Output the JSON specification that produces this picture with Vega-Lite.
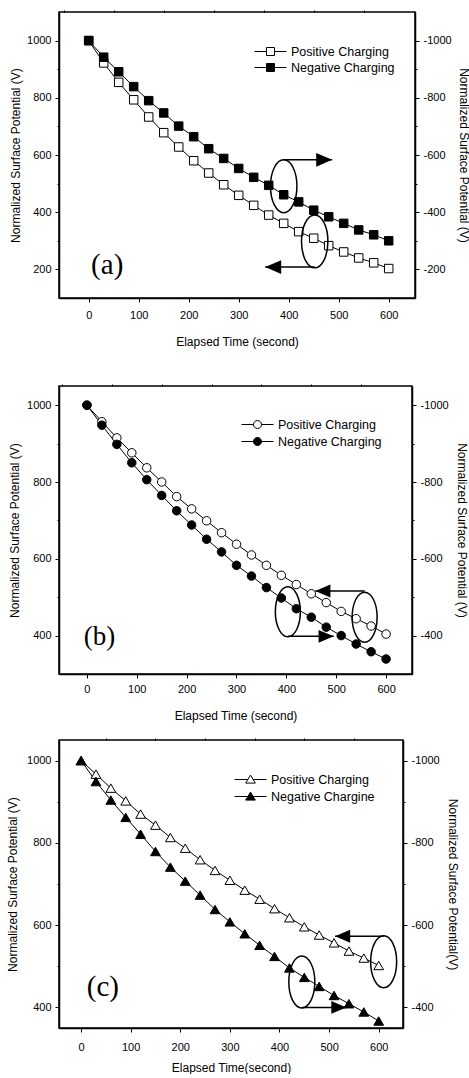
{
  "$schema": "https://vega.github.io/schema/vega-lite/v6.json",
  "padding": {"left": 5, "top": 8, "right": 0, "bottom": 0},
  "background": "white",
  "config": {
    "font": "Liberation Sans",
    "view": {"stroke": "black", "strokeWidth": 1.5},
    "axis": {"grid": false, "domainColor": "black", "domainWidth": 1.5, "tickColor": "black", "tickWidth": 1, "tickSize": 4, "labelColor": "black", "titleColor": "black", "labelFont": "Liberation Sans", "titleFont": "Liberation Sans", "labelFontSize": 11, "titleFontSize": 12, "titleFontWeight": "normal", "labelPadding": 4},
    "legend": {"padding": 0, "title": null, "labelFont": "Liberation Sans", "labelFontSize": 12.5, "labelColor": "black", "symbolStrokeColor": "black", "symbolStrokeWidth": 1, "symbolOpacity": 1, "symbolSize": 256, "labelOffset": 12}
  },
  "datasets": {
    "a": [
      {"t":0,"v":1000,"series":"Positive Charging"},{"t":30,"v":922,"series":"Positive Charging"},{"t":60,"v":854,"series":"Positive Charging"},{"t":90,"v":793,"series":"Positive Charging"},{"t":120,"v":733,"series":"Positive Charging"},{"t":150,"v":678,"series":"Positive Charging"},{"t":180,"v":628,"series":"Positive Charging"},{"t":210,"v":580,"series":"Positive Charging"},{"t":240,"v":537,"series":"Positive Charging"},{"t":270,"v":496,"series":"Positive Charging"},{"t":300,"v":459,"series":"Positive Charging"},{"t":330,"v":424,"series":"Positive Charging"},{"t":360,"v":390,"series":"Positive Charging"},{"t":390,"v":361,"series":"Positive Charging"},{"t":420,"v":332,"series":"Positive Charging"},{"t":450,"v":309,"series":"Positive Charging"},{"t":480,"v":283,"series":"Positive Charging"},{"t":510,"v":261,"series":"Positive Charging"},{"t":540,"v":240,"series":"Positive Charging"},{"t":570,"v":223,"series":"Positive Charging"},{"t":600,"v":203,"series":"Positive Charging"},
      {"t":0,"v":1000,"series":"Negative Charging"},{"t":30,"v":942,"series":"Negative Charging"},{"t":60,"v":891,"series":"Negative Charging"},{"t":90,"v":839,"series":"Negative Charging"},{"t":120,"v":790,"series":"Negative Charging"},{"t":150,"v":747,"series":"Negative Charging"},{"t":180,"v":701,"series":"Negative Charging"},{"t":210,"v":664,"series":"Negative Charging"},{"t":240,"v":622,"series":"Negative Charging"},{"t":270,"v":588,"series":"Negative Charging"},{"t":300,"v":553,"series":"Negative Charging"},{"t":330,"v":522,"series":"Negative Charging"},{"t":360,"v":494,"series":"Negative Charging"},{"t":390,"v":461,"series":"Negative Charging"},{"t":420,"v":436,"series":"Negative Charging"},{"t":450,"v":407,"series":"Negative Charging"},{"t":480,"v":384,"series":"Negative Charging"},{"t":510,"v":361,"series":"Negative Charging"},{"t":540,"v":338,"series":"Negative Charging"},{"t":570,"v":321,"series":"Negative Charging"},{"t":600,"v":300,"series":"Negative Charging"}
    ],
    "b": [
      {"t":0,"v":1000,"series":"Positive Charging"},{"t":30,"v":957,"series":"Positive Charging"},{"t":60,"v":915,"series":"Positive Charging"},{"t":90,"v":876,"series":"Positive Charging"},{"t":120,"v":837,"series":"Positive Charging"},{"t":150,"v":800,"series":"Positive Charging"},{"t":180,"v":762,"series":"Positive Charging"},{"t":210,"v":730,"series":"Positive Charging"},{"t":240,"v":699,"series":"Positive Charging"},{"t":270,"v":668,"series":"Positive Charging"},{"t":300,"v":638,"series":"Positive Charging"},{"t":330,"v":610,"series":"Positive Charging"},{"t":360,"v":583,"series":"Positive Charging"},{"t":390,"v":557,"series":"Positive Charging"},{"t":420,"v":533,"series":"Positive Charging"},{"t":450,"v":509,"series":"Positive Charging"},{"t":480,"v":486,"series":"Positive Charging"},{"t":510,"v":463,"series":"Positive Charging"},{"t":540,"v":444,"series":"Positive Charging"},{"t":570,"v":425,"series":"Positive Charging"},{"t":600,"v":404,"series":"Positive Charging"},
      {"t":0,"v":1000,"series":"Negative Charging"},{"t":30,"v":948,"series":"Negative Charging"},{"t":60,"v":898,"series":"Negative Charging"},{"t":90,"v":850,"series":"Negative Charging"},{"t":120,"v":806,"series":"Negative Charging"},{"t":150,"v":765,"series":"Negative Charging"},{"t":180,"v":725,"series":"Negative Charging"},{"t":210,"v":688,"series":"Negative Charging"},{"t":240,"v":651,"series":"Negative Charging"},{"t":270,"v":618,"series":"Negative Charging"},{"t":300,"v":583,"series":"Negative Charging"},{"t":330,"v":555,"series":"Negative Charging"},{"t":360,"v":525,"series":"Negative Charging"},{"t":390,"v":498,"series":"Negative Charging"},{"t":420,"v":470,"series":"Negative Charging"},{"t":450,"v":448,"series":"Negative Charging"},{"t":480,"v":422,"series":"Negative Charging"},{"t":510,"v":400,"series":"Negative Charging"},{"t":540,"v":378,"series":"Negative Charging"},{"t":570,"v":358,"series":"Negative Charging"},{"t":600,"v":339,"series":"Negative Charging"}
    ],
    "c": [
      {"t":0,"v":1000,"series":"Positive Charging"},{"t":30,"v":967,"series":"Positive Charging"},{"t":60,"v":933,"series":"Positive Charging"},{"t":90,"v":902,"series":"Positive Charging"},{"t":120,"v":870,"series":"Positive Charging"},{"t":150,"v":843,"series":"Positive Charging"},{"t":180,"v":813,"series":"Positive Charging"},{"t":210,"v":787,"series":"Positive Charging"},{"t":240,"v":759,"series":"Positive Charging"},{"t":270,"v":733,"series":"Positive Charging"},{"t":300,"v":709,"series":"Positive Charging"},{"t":330,"v":685,"series":"Positive Charging"},{"t":360,"v":663,"series":"Positive Charging"},{"t":390,"v":640,"series":"Positive Charging"},{"t":420,"v":618,"series":"Positive Charging"},{"t":450,"v":596,"series":"Positive Charging"},{"t":480,"v":576,"series":"Positive Charging"},{"t":510,"v":557,"series":"Positive Charging"},{"t":540,"v":537,"series":"Positive Charging"},{"t":570,"v":520,"series":"Positive Charging"},{"t":600,"v":502,"series":"Positive Charging"},
      {"t":0,"v":1000,"series":"Negative Chargine"},{"t":30,"v":949,"series":"Negative Chargine"},{"t":60,"v":904,"series":"Negative Chargine"},{"t":90,"v":862,"series":"Negative Chargine"},{"t":120,"v":821,"series":"Negative Chargine"},{"t":150,"v":779,"series":"Negative Chargine"},{"t":180,"v":741,"series":"Negative Chargine"},{"t":210,"v":707,"series":"Negative Chargine"},{"t":240,"v":673,"series":"Negative Chargine"},{"t":270,"v":638,"series":"Negative Chargine"},{"t":300,"v":608,"series":"Negative Chargine"},{"t":330,"v":579,"series":"Negative Chargine"},{"t":360,"v":551,"series":"Negative Chargine"},{"t":390,"v":524,"series":"Negative Chargine"},{"t":420,"v":496,"series":"Negative Chargine"},{"t":450,"v":473,"series":"Negative Chargine"},{"t":480,"v":451,"series":"Negative Chargine"},{"t":510,"v":429,"series":"Negative Chargine"},{"t":540,"v":409,"series":"Negative Chargine"},{"t":570,"v":389,"series":"Negative Chargine"},{"t":600,"v":367,"series":"Negative Chargine"}
    ],
    "ell_a": [{"t":390,"v":491},{"t":452,"v":298}],
    "arr_a": [{"t":390,"t2":487,"v":583},{"t":452,"t2":353,"v":208}],
    "head_a": [{"t":487,"v":583,"dir":"right"},{"t":353,"v":208,"dir":"left"}],
    "lab_a": [{"t":37,"v":215,"label":"(a)"}],
    "ell_b": [{"t":403,"v":462},{"t":557,"v":448}],
    "arr_b": [{"t":403,"t2":495,"v":398},{"t":557,"t2":458,"v":516}],
    "head_b": [{"t":495,"v":398,"dir":"right"},{"t":458,"v":516,"dir":"left"}],
    "lab_b": [{"t":25,"v":397,"label":"(b)"}],
    "ell_c": [{"t":610,"v":511},{"t":445,"v":462}],
    "arr_c": [{"t":610,"t2":512,"v":573},{"t":445,"t2":535,"v":400}],
    "head_c": [{"t":512,"v":573,"dir":"left"},{"t":535,"v":400,"dir":"right"}],
    "lab_c": [{"t":44,"v":449,"label":"(c)"}]
  },
  "resolve": {"scale": {"fill": "independent"}, "legend": {"fill": "independent"}},
  "spacing": 14,
  "vconcat": [
    {
      "resolve": {"scale": {"fill": "independent"}, "legend": {"fill": "independent"}},
      "spacing": 34,
      "vconcat": [
        {
          "width": 356, "height": 286,
          "encoding": {
            "x": {"field": "t", "type": "quantitative", "scale": {"domain": [-59.4, 652.6], "nice": false, "zero": false}, "axis": null},
            "y": {"field": "v", "type": "quantitative", "scale": {"domain": [100, 1100], "nice": false, "zero": false}, "axis": null}
          },
          "layer": [
            {"data": {"name": "a"}, "mark": {"type": "line", "color": "black", "strokeWidth": 1},
             "encoding": {
               "x": {"field": "t", "type": "quantitative", "scale": {"domain": [-59.4, 652.6], "nice": false, "zero": false}, "axis": {"values": [0,100,200,300,400,500,600], "format": "d", "title": "Elapsed Time (second)", "labelPadding": 7, "titlePadding": 16}},
               "y": {"field": "v", "type": "quantitative", "scale": {"domain": [100, 1100], "nice": false, "zero": false}, "axis": {"orient": "left", "values": [200,400,600,800,1000], "format": "d", "title": "Normalized Surface Potential (V)", "titlePadding": 4}},
               "detail": {"field": "series", "type": "nominal"}}},
            {"data": {"name": "a"}, "mark": {"type": "point", "shape": "square", "filled": true, "stroke": "black", "strokeWidth": 1, "size": 72, "opacity": 1},
             "encoding": {"fill": {"field": "series", "type": "nominal", "scale": {"domain": ["Positive Charging", "Negative Charging"], "range": ["white", "black"]},
               "legend": {"orient": "none", "legendX": 203, "legendY": 31, "rowPadding": 1, "symbolType": "M-2,0 L-0.5,0 M0.5,0 L2,0 M-0.5,-0.5 L0.5,-0.5 L0.5,0.5 L-0.5,0.5 Z"}}}},
            {"data": {"name": "a"}, "mark": {"type": "point", "opacity": 0},
             "encoding": {
               "x": {"field": "t", "type": "quantitative", "scale": {"domain": [-59.4, 652.6], "nice": false, "zero": false}, "axis": {"values": [-50,50,150,250,350,450,550], "labels": false, "domain": false, "tickSize": 2, "title": null}},
               "y": {"field": "v", "type": "quantitative", "scale": {"domain": [100, 1100], "nice": false, "zero": false}, "axis": {"orient": "right", "values": [200,400,600,800,1000], "labelExpr": "'-' + format(datum.value, 'd')", "title": "Normalized Surface Potential (V)", "titlePadding": 5}}}},
            {"data": {"name": "a"}, "mark": {"type": "point", "opacity": 0},
             "encoding": {"y": {"field": "v", "type": "quantitative", "scale": {"domain": [100, 1100], "nice": false, "zero": false}, "axis": {"orient": "left", "values": [300,500,700,900], "labels": false, "domain": false, "tickSize": 2, "title": null}}}},
            {"data": {"name": "a"}, "mark": {"type": "point", "opacity": 0},
             "encoding": {"y": {"field": "v", "type": "quantitative", "scale": {"domain": [100, 1100], "nice": false, "zero": false}, "axis": {"orient": "right", "values": [300,500,700,900], "labels": false, "domain": false, "tickSize": 2, "title": null}}}},
            {"data": {"name": "ell_a"}, "mark": {"type": "point", "shape": "M-0.5,0 C-0.5,-0.552 -0.276,-1 0,-1 C0.276,-1 0.5,-0.552 0.5,0 C0.5,0.552 0.276,1 0,1 C-0.276,1 -0.5,0.552 -0.5,0 Z", "size": 2800, "filled": false, "stroke": "black", "strokeWidth": 1.5, "opacity": 1}, "encoding": {}},
            {"data": {"name": "arr_a"}, "mark": {"type": "rule", "color": "black", "strokeWidth": 1.5}, "encoding": {"x2": {"field": "t2"}}},
            {"data": {"name": "head_a"}, "mark": {"type": "point", "filled": true, "color": "black", "opacity": 1, "size": 256, "strokeWidth": 0},
             "encoding": {"shape": {"field": "dir", "type": "nominal", "scale": {"domain": ["right", "left"], "range": ["M0,0 L-2,-0.85 L-2,0.85 Z", "M0,0 L2,-0.85 L2,0.85 Z"]}, "legend": null}}},
            {"data": {"name": "lab_a"}, "mark": {"type": "text", "font": "Liberation Serif", "fontSize": 29, "color": "black", "align": "center", "baseline": "middle"}, "encoding": {"text": {"field": "label"}}}
          ],
          "resolve": {"scale": {"x": "independent", "y": "independent"}, "axis": {"x": "independent", "y": "independent"}}
        },
        {
          "width": 353, "height": 288,
          "encoding": {
            "x": {"field": "t", "type": "quantitative", "scale": {"domain": [-56, 652], "nice": false, "zero": false}, "axis": null},
            "y": {"field": "v", "type": "quantitative", "scale": {"domain": [300, 1050], "nice": false, "zero": false}, "axis": null}
          },
          "layer": [
            {"data": {"name": "b"}, "mark": {"type": "line", "color": "black", "strokeWidth": 1},
             "encoding": {
               "x": {"field": "t", "type": "quantitative", "scale": {"domain": [-56, 652], "nice": false, "zero": false}, "axis": {"values": [0,100,200,300,400,500,600], "format": "d", "title": "Elapsed Time (second)", "labelPadding": 5, "titlePadding": 16}},
               "y": {"field": "v", "type": "quantitative", "scale": {"domain": [300, 1050], "nice": false, "zero": false}, "axis": {"orient": "left", "values": [400,600,800,1000], "format": "d", "title": "Normalized Surface Potential (V)", "titlePadding": 5}},
               "detail": {"field": "series", "type": "nominal"}}},
            {"data": {"name": "b"}, "mark": {"type": "point", "shape": "circle", "filled": true, "stroke": "black", "strokeWidth": 1, "size": 72, "opacity": 1},
             "encoding": {"fill": {"field": "series", "type": "nominal", "scale": {"domain": ["Positive Charging", "Negative Charging"], "range": ["white", "black"]},
               "legend": {"orient": "none", "legendX": 190, "legendY": 30, "rowPadding": 2, "symbolType": "M-2,0 L-0.5,0 M0.5,0 L2,0 M-0.5,0 C-0.5,-0.276 -0.276,-0.5 0,-0.5 C0.276,-0.5 0.5,-0.276 0.5,0 C0.5,0.276 0.276,0.5 0,0.5 C-0.276,0.5 -0.5,0.276 -0.5,0 Z"}}}},
            {"data": {"name": "b"}, "mark": {"type": "point", "opacity": 0},
             "encoding": {
               "x": {"field": "t", "type": "quantitative", "scale": {"domain": [-56, 652], "nice": false, "zero": false}, "axis": {"values": [-50,50,150,250,350,450,550], "labels": false, "domain": false, "tickSize": 2, "title": null}},
               "y": {"field": "v", "type": "quantitative", "scale": {"domain": [300, 1050], "nice": false, "zero": false}, "axis": {"orient": "right", "values": [400,600,800,1000], "labelExpr": "'-' + format(datum.value, 'd')", "title": "Normalized Surface Potential (V)", "titlePadding": 6}}}},
            {"data": {"name": "b"}, "mark": {"type": "point", "opacity": 0},
             "encoding": {"y": {"field": "v", "type": "quantitative", "scale": {"domain": [300, 1050], "nice": false, "zero": false}, "axis": {"orient": "left", "values": [500,700,900], "labels": false, "domain": false, "tickSize": 2, "title": null}}}},
            {"data": {"name": "b"}, "mark": {"type": "point", "opacity": 0},
             "encoding": {"y": {"field": "v", "type": "quantitative", "scale": {"domain": [300, 1050], "nice": false, "zero": false}, "axis": {"orient": "right", "values": [500,700,900], "labels": false, "domain": false, "tickSize": 2, "title": null}}}},
            {"data": {"name": "ell_b"}, "mark": {"type": "point", "shape": "M-0.5,0 C-0.5,-0.552 -0.276,-1 0,-1 C0.276,-1 0.5,-0.552 0.5,0 C0.5,0.552 0.276,1 0,1 C-0.276,1 -0.5,0.552 -0.5,0 Z", "size": 2500, "filled": false, "stroke": "black", "strokeWidth": 1.5, "opacity": 1}, "encoding": {}},
            {"data": {"name": "arr_b"}, "mark": {"type": "rule", "color": "black", "strokeWidth": 1.5}, "encoding": {"x2": {"field": "t2"}}},
            {"data": {"name": "head_b"}, "mark": {"type": "point", "filled": true, "color": "black", "opacity": 1, "size": 230, "strokeWidth": 0},
             "encoding": {"shape": {"field": "dir", "type": "nominal", "scale": {"domain": ["right", "left"], "range": ["M0,0 L-2,-0.85 L-2,0.85 Z", "M0,0 L2,-0.85 L2,0.85 Z"]}, "legend": null}}},
            {"data": {"name": "lab_b"}, "mark": {"type": "text", "font": "Liberation Serif", "fontSize": 27, "color": "black", "align": "center", "baseline": "middle"}, "encoding": {"text": {"field": "label"}}}
          ],
          "resolve": {"scale": {"x": "independent", "y": "independent"}, "axis": {"x": "independent", "y": "independent"}}
        }
      ]
    },
    {
      "width": 344, "height": 288,
      "encoding": {
        "x": {"field": "t", "type": "quantitative", "scale": {"domain": [-44.5, 649], "nice": false, "zero": false}, "axis": null},
        "y": {"field": "v", "type": "quantitative", "scale": {"domain": [350, 1050], "nice": false, "zero": false}, "axis": null}
      },
      "layer": [
        {"data": {"name": "c"}, "mark": {"type": "line", "color": "black", "strokeWidth": 1},
         "encoding": {
           "x": {"field": "t", "type": "quantitative", "scale": {"domain": [-44.5, 649], "nice": false, "zero": false}, "axis": {"values": [0,100,200,300,400,500,600], "format": "d", "title": "Elapsed Time(second)", "labelPadding": 9, "titlePadding": 10}},
           "y": {"field": "v", "type": "quantitative", "scale": {"domain": [350, 1050], "nice": false, "zero": false}, "axis": {"orient": "left", "values": [400,600,800,1000], "format": "d", "title": "Normalized Surface Potential (V)", "titlePadding": 7}},
           "detail": {"field": "series", "type": "nominal"}}},
        {"data": {"name": "c"}, "mark": {"type": "point", "shape": "triangle-up", "filled": true, "stroke": "black", "strokeWidth": 1, "size": 95, "opacity": 1},
         "encoding": {"fill": {"field": "series", "type": "nominal", "scale": {"domain": ["Positive Charging", "Negative Chargine"], "range": ["white", "black"]},
           "legend": {"orient": "none", "legendX": 183, "legendY": 31, "rowPadding": 2, "symbolType": "M-2,0 L-0.32,0 M0.32,0 L2,0 M0,-0.55 L0.6,0.45 L-0.6,0.45 Z"}}}},
        {"data": {"name": "c"}, "mark": {"type": "point", "opacity": 0},
         "encoding": {
           "x": {"field": "t", "type": "quantitative", "scale": {"domain": [-44.5, 649], "nice": false, "zero": false}, "axis": {"values": [50,150,250,350,450,550], "labels": false, "domain": false, "tickSize": 2, "title": null}},
           "y": {"field": "v", "type": "quantitative", "scale": {"domain": [350, 1050], "nice": false, "zero": false}, "axis": {"orient": "right", "values": [400,600,800,1000], "labelExpr": "'-' + format(datum.value, 'd')", "title": "Normalized Surface Potential(V)", "titlePadding": 6}}}},
        {"data": {"name": "c"}, "mark": {"type": "point", "opacity": 0},
         "encoding": {"y": {"field": "v", "type": "quantitative", "scale": {"domain": [350, 1050], "nice": false, "zero": false}, "axis": {"orient": "left", "values": [500,700,900], "labels": false, "domain": false, "tickSize": 2, "title": null}}}},
        {"data": {"name": "c"}, "mark": {"type": "point", "opacity": 0},
         "encoding": {"y": {"field": "v", "type": "quantitative", "scale": {"domain": [350, 1050], "nice": false, "zero": false}, "axis": {"orient": "right", "values": [500,700,900], "labels": false, "domain": false, "tickSize": 2, "title": null}}}},
        {"data": {"name": "ell_c"}, "mark": {"type": "point", "shape": "M-0.5,0 C-0.5,-0.552 -0.276,-1 0,-1 C0.276,-1 0.5,-0.552 0.5,0 C0.5,0.552 0.276,1 0,1 C-0.276,1 -0.5,0.552 -0.5,0 Z", "size": 2704, "filled": false, "stroke": "black", "strokeWidth": 1.5, "opacity": 1}, "encoding": {}},
        {"data": {"name": "arr_c"}, "mark": {"type": "rule", "color": "black", "strokeWidth": 1.5}, "encoding": {"x2": {"field": "t2"}}},
        {"data": {"name": "head_c"}, "mark": {"type": "point", "filled": true, "color": "black", "opacity": 1, "size": 230, "strokeWidth": 0},
         "encoding": {"shape": {"field": "dir", "type": "nominal", "scale": {"domain": ["right", "left"], "range": ["M0,0 L-2,-0.85 L-2,0.85 Z", "M0,0 L2,-0.85 L2,0.85 Z"]}, "legend": null}}},
        {"data": {"name": "lab_c"}, "mark": {"type": "text", "font": "Liberation Serif", "fontSize": 29, "color": "black", "align": "center", "baseline": "middle"}, "encoding": {"text": {"field": "label"}}}
      ],
      "resolve": {"scale": {"x": "independent", "y": "independent"}, "axis": {"x": "independent", "y": "independent"}}
    }
  ]
}
